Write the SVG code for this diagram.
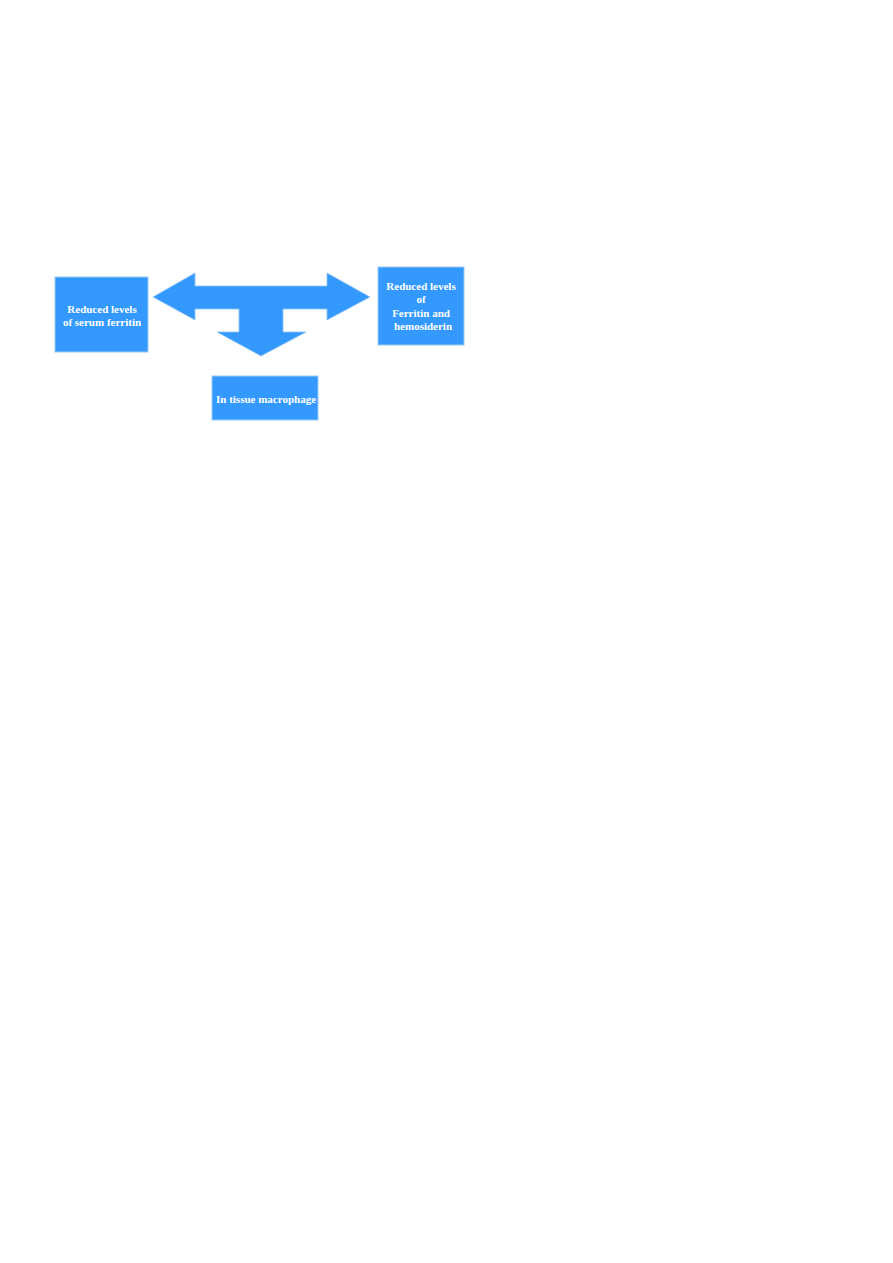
<svg xmlns="http://www.w3.org/2000/svg" width="893" height="1263" viewBox="0 0 893 1263">
<style>
.box{fill:#3399ff;stroke:#9cc8f5;stroke-width:1}
.arrow{fill:#3399ff;stroke:#8ec2f5;stroke-width:0.8}
.t{font-family:"Liberation Serif",serif;font-weight:bold;font-size:11px;fill:#ffffff;text-anchor:middle}
</style>
<rect width="893" height="1263" fill="#ffffff"/>
<g id="connectors">
<path class="arrow" d="M153,297 L195,273 L195,286 L327,286 L327,273 L370,297 L327,320 L327,309 L283,309 L283,332 L306,332 L261,356 L217,332 L239,332 L239,309 L195,309 L195,320 Z"/>
</g>
<g id="node-left">
<rect class="box" x="55" y="277" width="93" height="75"/>
<text class="t" x="102" y="312.5">Reduced levels</text>
<text class="t" x="102" y="326">of serum ferritin</text>
</g>
<g id="node-right">
<rect class="box" x="378" y="267" width="86" height="78"/>
<text class="t" x="421" y="289.5">Reduced levels</text>
<text class="t" x="421" y="303">of</text>
<text class="t" x="421" y="316.5">Ferritin and</text>
<text class="t" x="423" y="330">hemosiderin</text>
</g>
<g id="node-bottom">
<rect class="box" x="212" y="376" width="106" height="44"/>
<text class="t" x="266" y="402.5">In tissue macrophage</text>
</g>
</svg>
